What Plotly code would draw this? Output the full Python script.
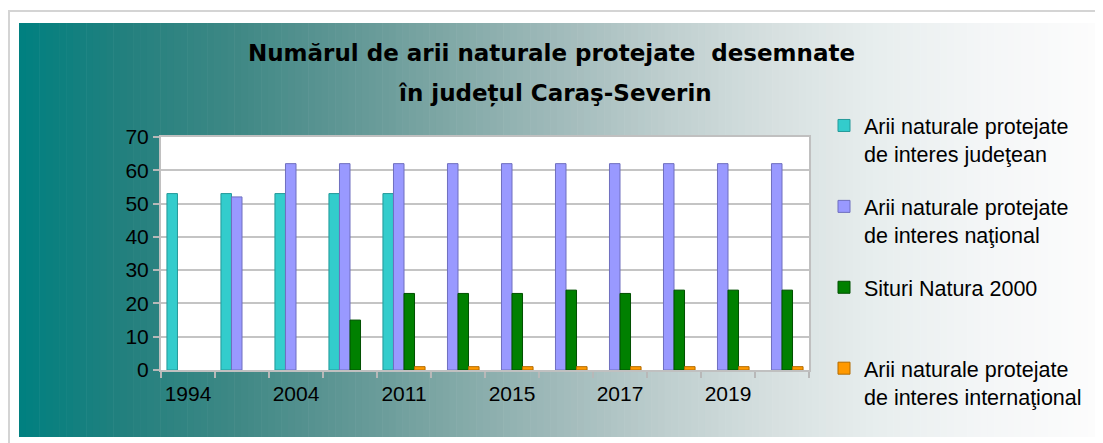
import numpy as np
import plotly.graph_objects as go

# ---------------- data ----------------
categories = ["1994", "2000", "2004", "2007", "2011", "2013",
              "2015", "2016", "2017", "2018", "2019", "2020"]
tick_labels = ["1994", "", "2004", "", "2011", "", "2015", "", "2017", "", "2019", ""]

judetean = [53, 53, 53, 53, 53, None, None, None, None, None, None, None]
national = [None, 52, 62, 62, 62, 62, 62, 62, 62, 62, 62, 62]
natura2000 = [None, None, None, 15, 23, 23, 23, 24, 23, 24, 24, 24]
international = [None, None, None, None, 1, 1, 1, 1, 1, 1, 1, 1]

series_names = [
    "Arii naturale protejate<br>de interes judeţean",
    "Arii naturale protejate<br>de interes naţional",
    "Situri Natura 2000<br> ",
    "Arii naturale protejate<br>de interes internaţional",
]
series_values = [judetean, national, natura2000, international]
series_colors = ["#33CCCC", "#9999FF", "#008000", "#FF9900"]
edge_colors = ["#249a9a", "#6f6fbf", "#005000", "#b36b00"]

title_lines = ["Numărul de arii naturale protejate  desemnate",
               "în județul Caraş-Severin"]

# ---------------- layout helpers ----------------
W, H = 1103, 443
OFF = 8  # page body margin of the browser
def px(x):
    return (x - OFF) / W
def py(y):
    return 1 - (y - OFF) / H

fig = go.Figure()
for name, vals, col, ec in zip(series_names, series_values, series_colors, edge_colors):
    fig.add_trace(go.Bar(
        x=categories, y=vals, name=name, legendgroup=name,
        marker=dict(color=col, line=dict(width=1, color=ec)),
    ))

# gradient background built from vertical strips
stops_t = [0, 0.1, 0.2, 0.3, 0.4, 0.5, 0.6, 0.7, 0.8, 0.9, 1.0]
stops_rgb = np.array([
    (0, 128, 128), (35, 128, 126), (62, 136, 133), (95, 150, 148),
    (128, 168, 166), (160, 186, 186), (190, 206, 206), (214, 224, 224),
    (232, 238, 238), (244, 246, 247), (252, 252, 252)])
gx0, gx1, gy0, gy1 = 19, 1095, 23, 437
n = 160
edges = np.linspace(gx0, gx1, n + 1)
shapes = [dict(type="rect", xref="paper", yref="paper",
               x0=px(9), x1=px(1120), y0=py(11), y1=py(470),
               fillcolor="white", line=dict(color="#d4d4d4", width=2),
               layer="below")]
for i in range(n):
    t = (i + 0.5) / n
    r, g, b = [int(round(np.interp(t, stops_t, stops_rgb[:, k]))) for k in range(3)]
    shapes.append(dict(type="rect", xref="paper", yref="paper",
                       x0=px(edges[i]), x1=px(edges[i + 1] + 0.6),
                       y0=py(gy1), y1=py(gy0),
                       fillcolor=f"rgb({r},{g},{b})", line=dict(width=0),
                       layer="below"))
# white plot wall
shapes.append(dict(type="rect", xref="paper", yref="paper",
                   x0=px(161), x1=px(810), y0=py(370), y1=py(137),
                   fillcolor="white", line=dict(width=0), layer="below"))

annotations = [
    dict(text=title_lines[0], x=px(551), y=py(53), xref="paper", yref="paper",
         showarrow=False, xanchor="center", yanchor="middle",
         font=dict(family="DejaVu Sans", size=23, color="black", weight="bold")),
    dict(text=title_lines[1], x=px(555), y=py(93), xref="paper", yref="paper",
         showarrow=False, xanchor="center", yanchor="middle",
         font=dict(family="DejaVu Sans", size=23, color="black", weight="bold")),
]

fig.update_layout(
    width=W, height=H,
    margin=dict(l=0, r=0, t=0, b=0, autoexpand=False),
    paper_bgcolor="white", plot_bgcolor="white",
    barmode="group", bargap=0.22, bargroupgap=0.0,
    font=dict(family="Liberation Sans", size=21, color="black"),
    shapes=shapes, annotations=annotations,
    showlegend=True,
    legend=dict(x=px(824), y=py(105), xanchor="left", yanchor="top",
                bgcolor="rgba(0,0,0,0)", valign="top", tracegroupgap=22,
                traceorder="grouped",
                font=dict(family="Liberation Sans", size=21.5, color="black")),
    xaxis=dict(domain=[px(161), px(809)], type="category", automargin=False,
               tickmode="array", tickvals=categories, ticktext=tick_labels,
               tickangle=0, ticklabelstandoff=4,
               tickson="boundaries", ticks="outside", ticklen=6,
               tickcolor="#b8b8b8", tickwidth=2,
               showline=True, linecolor="#c0c0c0", linewidth=2, mirror=True,
               showgrid=False, tickfont=dict(size=21)),
    yaxis=dict(domain=[py(370), py(137)], range=[0, 70], dtick=10,
               automargin=False,
               ticks="outside", ticklen=6, tickcolor="#b8b8b8", tickwidth=2,
               showline=True, linecolor="#c0c0c0", linewidth=2, mirror=True,
               showgrid=True, gridcolor="#c4c4c4", gridwidth=2,
               zeroline=False, tickfont=dict(size=21)),
)

fig.write_html("out.html")
